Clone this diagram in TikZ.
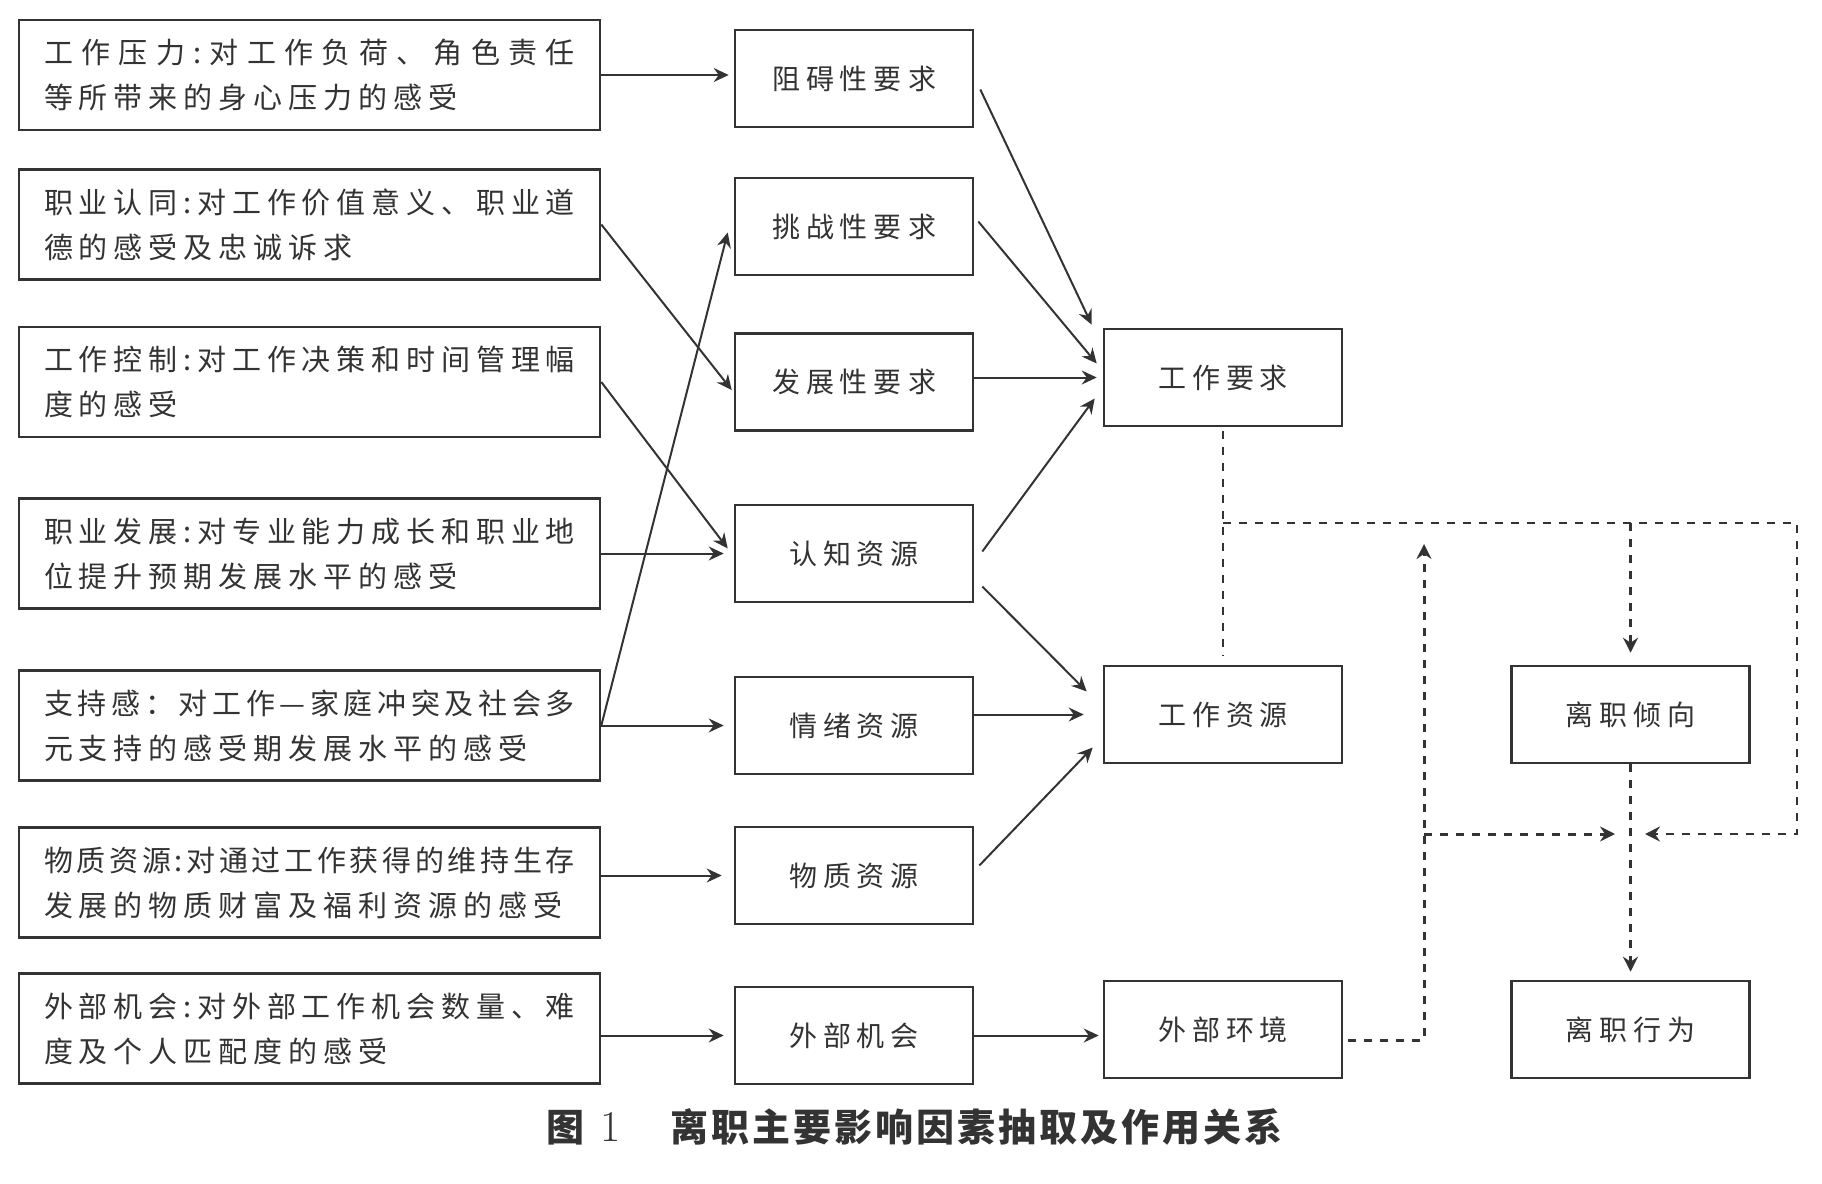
\documentclass[tikz,border=0pt]{standalone}
\usepackage{fontspec}
\usetikzlibrary{arrows.meta}
\newfontfamily\cjk{Noto Sans CJK SC}
\definecolor{linec}{HTML}{333333}

% put a skip between the characters of a line
\newcommand\gapchars[2]{\def\gapskip{#1}\gapfirst#2\relax}
\def\gapfirst#1{#1\gapnext}
\def\gapnext#1{\ifx\relax#1\else\gapskip#1\expandafter\gapnext\fi}
\newcommand\fline[1]{\hbox to 531pt{\gapchars{\hskip 6pt plus 1fil minus 7pt\relax}{#1}}}
\newcommand\sline[1]{\hbox{\gapchars{\hskip 6pt\relax}{#1}}}
\newcommand\spaced[1]{\gapchars{\hskip 6pt\relax}{#1}}

\tikzset{
  factor/.style={draw=linec, line width=2.6pt, minimum width=581pt, minimum height=110pt,
    inner xsep=25pt, align=left, text=linec, font=\cjk\fontsize{29}{45}\selectfont},
  item/.style={draw=linec, line width=2.6pt, minimum width=238pt, minimum height=97pt,
    text=linec, font=\cjk\fontsize{28}{34}\selectfont},
  arr/.style={draw=linec, line width=2pt, -{Stealth[length=15pt,width=14pt,inset=5pt]}},
  dsh/.style={draw=linec, line width=2.2pt, dash pattern=on 8pt off 8pt},
  thickdsh/.style={dsh, line width=3pt},
  tip/.style={-{Stealth[length=15pt,width=15pt,inset=5pt]}},
}

\begin{document}
\begin{tikzpicture}[x=1pt,y=-1pt]
	\useasboundingbox (0,0) rectangle (1822,1183);
	% factors
	\foreach \y/\txt [count=\n] in {
		75/{\fline{工作压力:对工作负荷、角色责任}\\\sline{等所带来的身心压力的感受}},
		224.5/{\fline{职业认同:对工作价值意义、职业道}\\\sline{德的感受及忠诚诉求}},
		382/{\fline{工作控制:对工作决策和时间管理幅}\\\sline{度的感受}},
		553.5/{\fline{职业发展:对专业能力成长和职业地}\\\sline{位提升预期发展水平的感受}},
		725.5/{\fline{支持感：对工作—家庭冲突及社会多}\\\sline{元支持的感受期发展水平的感受}},
		882.5/{\fline{物质资源:对通过工作获得的维持生存}\\\sline{发展的物质财富及福利资源的感受}},
		1028.5/{\fline{外部机会:对外部工作机会数量、难}\\\sline{度及个人匹配度的感受}}}{
		\node[factor] (l\n) at (309.5,\y) {\txt};
	}
	\foreach \y/\txt [count=\n] in {78.5/阻碍性要求, 226.5/挑战性要求, 382/发展性要求,
		553.5/认知资源, 725.5/情绪资源, 875.5/物质资源, 1035.5/外部机会}{
		\node[item] (m\n) at (854,\y) {\expandafter\spaced\expandafter{\txt}};
	}
	\node[item] (r1) at (1223,377.5) {\spaced{工作要求}};
	\node[item] (r2) at (1223,714.5) {\spaced{工作资源}};
	\node[item] (r3) at (1223,1029.5) {\spaced{外部环境}};
	\node[item] (q1) at (1630.5,714.5) {\spaced{离职倾向}};
	\node[item] (q2) at (1630.5,1029.5) {\spaced{离职行为}};

	% factors to dimensions
	\draw[arr, shorten >=5pt] (l1.east) -- (l1.east -| m1.west);
	\draw[arr] (l2.east) -- ([xshift=-2pt,yshift=-8pt]m3.west);
	\draw[arr] (l3.east) -- ([xshift=-6pt,yshift=5pt]m4.west);
	\draw[arr, shorten >=10pt] (l4.east) -- (m4.west);
	\draw[arr] (l5.east) -- ([xshift=-6pt,yshift=-6pt]m2.west);
	\draw[arr, shorten >=10pt] (l5.east) -- (m5.west);
	\draw[arr, shorten >=12pt] (m6.west -| l6.east) -- (m6.west);
	\draw[arr, shorten >=10pt] (m7.west -| l7.east) -- (m7.west);

	% dimensions to demands and resources
	\draw[arr] ([xshift=6pt,yshift=-11pt]m1.east) -- ([xshift=-11pt,yshift=3pt]r1.north west);
	\draw[arr] ([xshift=4pt,yshift=5pt]m2.east) -- ([xshift=-6pt,yshift=14pt]r1.west);
	\draw[arr, shorten >=6pt] (r1.west -| m3.east) -- (r1.west);
	\draw[arr] ([xshift=8pt,yshift=2pt]m4.east) -- ([xshift=-8pt,yshift=-21pt]r1.west);
	\draw[arr] ([xshift=8pt,yshift=-33pt]m4.east) -- ([xshift=-16pt,yshift=23pt]r2.west);
	\draw[arr, shorten >=19pt] (r2.west -| m5.east) -- (r2.west);
	\draw[arr] ([xshift=5pt,yshift=10pt]m6.east) -- ([xshift=-10pt,yshift=-33pt]r2.west);
	\draw[arr, shorten >=4pt] (m7.east) -- (m7.east -| r3.west);

	% turnover paths
	\coordinate (jd) at (1223,523);
	\coordinate (jr) at (1797,523);
	\coordinate (mod) at (1628,834);
	\coordinate (ev) at (1424,1040);
	\draw[dsh] ([yshift=-4pt]r1.south) -- ([yshift=9pt]r2.north);
	\draw[dsh, tip] (jd) -- (jr) |- ([xshift=17pt]mod);
	\draw[dsh, tip] (q1.north |- jd) -- ([yshift=12pt]q1.north);
	\draw[thickdsh, tip] (q1.south) -- ([yshift=8pt]q2.north);
	\draw[thickdsh, tip, shorten >=21pt] ([xshift=5pt,yshift=-10.5pt]r3.east) -| (ev |- jd);
	\draw[thickdsh, tip] (ev |- mod) -- ([xshift=-13pt]mod);

	\node[anchor=west, text=linec] (cap) at (543,1127) {{\cjk\bfseries\fontsize{38}{40}\selectfont 图}\hspace{16pt}{\fontsize{44}{46}\selectfont 1}\hspace{50pt}{\cjk\bfseries\fontsize{38}{40}\selectfont\gapchars{\hskip 3pt\relax}{离职主要影响因素抽取及作用关系}}};
\end{tikzpicture}
\end{document}
